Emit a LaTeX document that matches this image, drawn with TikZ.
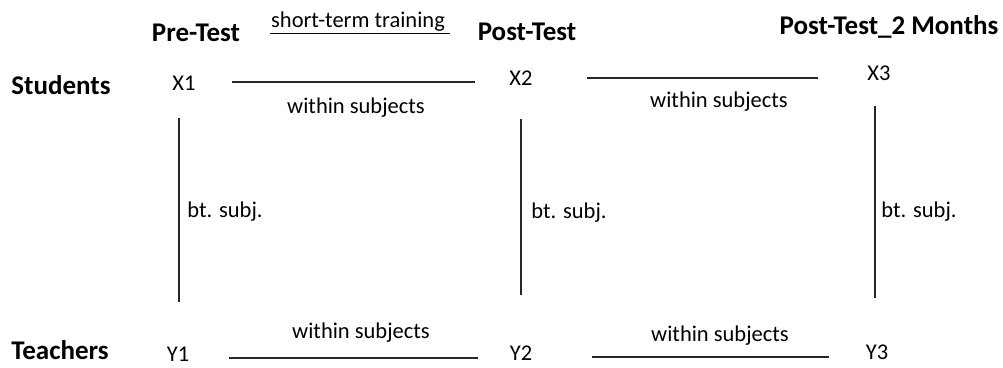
\documentclass[tikz,border=0pt]{standalone}
\usepackage{fontspec}
\setmainfont{Carlito}
\begin{document}
\begin{tikzpicture}[x=1pt,y=-1pt,
  lbl/.style={inner sep=0pt,font=\fontsize{22.5}{26}\selectfont},
  head/.style={inner sep=0pt,font=\fontsize{27}{30}\selectfont\bfseries},
  link/.style={line width=1.4pt,draw=black!85}]
\useasboundingbox (0,0) rectangle (1003,367);
% column headings
\node[head] (pre) at (196,33) {Pre-Test};
\node[lbl] (train) at (358,22) {short-term training};
\node[head] (post) at (527,32) {Post-Test};
\node[head] (post2) at (889,27) {Post-Test\_2 Months};
\draw[line width=1pt] (270,33) -- (450,33);
% row headings
\node[head] (stu) at (61,85) {Students};
\node[head] (tea) at (60,350) {Teachers};
% measurement points
\node[lbl] (X1) at (184,83) {X1};
\node[lbl] (X2) at (521,78) {X2};
\node[lbl] (X3) at (879,73) {X3};
\node[lbl] (Y1) at (178,354) {Y1};
\node[lbl] (Y2) at (521,353) {Y2};
\node[lbl] (Y3) at (877,352) {Y3};
% line end points
\coordinate (a1) at (232,82);  \coordinate (a2) at (475,82);
\coordinate (b1) at (587,78);  \coordinate (b2) at (818,78);
\coordinate (c1) at (229,358); \coordinate (c2) at (478,358);
\coordinate (d1) at (592,357); \coordinate (d2) at (829,357);
\coordinate (v1t) at (179,118); \coordinate (v1b) at (179,302);
\coordinate (v2t) at (521,119); \coordinate (v2b) at (521,295);
\coordinate (v3t) at (875,106); \coordinate (v3b) at (875,298);
% within-subject links
\draw[link] (a1) -- (a2);
\draw[link] (b1) -- (b2);
\draw[link] (c1) -- (c2);
\draw[link] (d1) -- (d2);
\node[lbl] (w1) at (356,108) {within subjects};
\node[lbl] (w2) at (719,102) {within subjects};
\node[lbl] (w3) at (361,333) {within subjects};
\node[lbl] (w4) at (720,336) {within subjects};
% between-subject links
\draw[link] (v1t) -- (v1b);
\draw[link] (v2t) -- (v2b);
\draw[link] (v3t) -- (v3b);
\node[lbl] (s1) at (225,212) {bt. subj.};
\node[lbl] (s2) at (569,213) {bt. subj.};
\node[lbl] (s3) at (919,212) {bt. subj.};
\end{tikzpicture}
\end{document}
